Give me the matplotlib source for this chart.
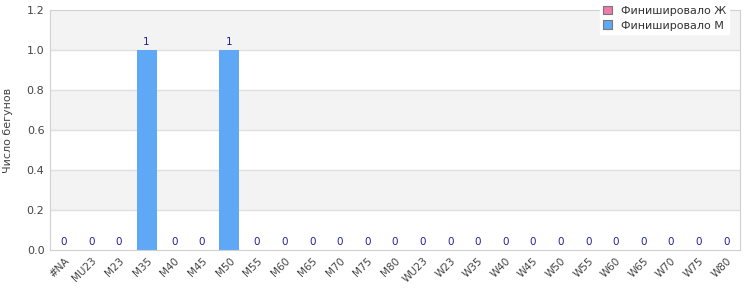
import numpy as np
import matplotlib.pyplot as plt

categories = ["#NA", "MU23", "M23", "M35", "M40", "M45", "M50", "M55", "M60", "M65",
              "M70", "M75", "M80", "WU23", "W23", "W35", "W40", "W45", "W50", "W55",
              "W60", "W65", "W70", "W75", "W80"]
men = [0, 0, 0, 1, 0, 0, 1, 0, 0, 0, 0, 0, 0, 0, 0, 0, 0, 0, 0, 0, 0, 0, 0, 0, 0]
women = [0] * len(categories)

fig = plt.figure(figsize=(7.5, 3), dpi=100)
ax = fig.add_axes([0.0667, 0.1667, 0.92, 0.80])

x = np.arange(len(categories))
ax.set_xlim(-0.5, len(categories) - 0.5)
ax.set_ylim(0, 1.2)

# alternating background bands
yt = np.arange(0, 1.21, 0.2)
for i in range(len(yt) - 1):
    if i % 2 == 1:
        ax.axhspan(yt[i], yt[i + 1], color="#f3f3f3", zorder=0, lw=0)
for y in yt[1:-1]:
    ax.axhline(y, color="#e0e0e0", lw=1, zorder=1)

ax.bar(x, women, width=0.72, color="#f07ab0", zorder=2, label="Финишировало Ж")
bars = ax.bar(x, men, width=0.72, color="#5fa8f5", zorder=2, label="Финишировало М")
for xi, v in zip(x, men):
    ax.text(xi, v + 0.015, str(v), ha="center", va="bottom", fontsize=7.5,
            color="#22229a", zorder=3)

ax.set_yticks(yt)
ax.set_yticklabels(["%.1f" % v for v in yt], fontsize=8, color="#444444")
ax.set_xticks(x)
ax.set_xticklabels(categories, rotation=45, ha="right", rotation_mode="anchor",
                   fontsize=7.5, color="#444444")
ax.tick_params(length=0, pad=4)
for s in ax.spines.values():
    s.set_color("#d0d0d0")
ax.set_ylabel("Число бегунов", fontsize=8, color="#444444", labelpad=10)

leg = fig.legend(loc="upper right", bbox_to_anchor=(0.98, 1.01), fontsize=8,
                 frameon=True, framealpha=1, edgecolor="white", fancybox=False,
                 handlelength=0.8, handleheight=0.8, borderpad=0.3, labelspacing=0.4)
for h in leg.legend_handles:
    h.set_edgecolor("#777777")
    h.set_linewidth(0.8)
for t in leg.get_texts():
    t.set_color("#333333")

fig.savefig("out.png", dpi=100)
